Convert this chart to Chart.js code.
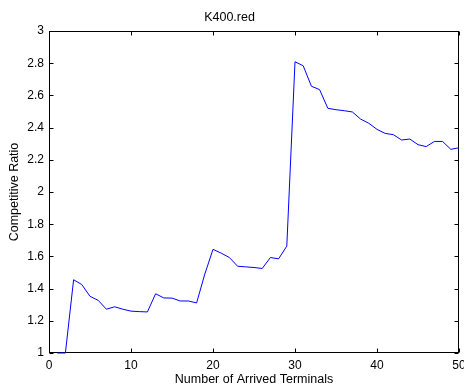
<!DOCTYPE html>
<html>
<head>
<meta charset="utf-8">
<script src="https://cdn.jsdelivr.net/npm/chart.js@4.4.1/dist/chart.umd.min.js"></script>
<style>
html,body{margin:0;padding:0;background:#fff;}
#wrap{width:464px;height:391px;position:relative;}
</style>
</head>
<body>
<div id="wrap"><canvas id="c" width="464" height="391"></canvas></div>
<script>
const chartTitle = 'K400.red';
const xAxisTitle = 'Number of Arrived Terminals';
const yAxisTitle = 'Competitive Ratio';
const terminals = [1,2,3,4,5,6,7,8,9,10,11,12,13,14,15,16,17,18,19,20,21,22,23,24,25,26,27,28,29,30,31,32,33,34,35,36,37,38,39,40,41,42,43,44,45,46,47,48,49,50];
const ratio = [1.0,1.0,1.455,1.425,1.352,1.327,1.272,1.287,1.272,1.260,1.257,1.255,1.368,1.342,1.341,1.323,1.323,1.311,1.490,1.644,1.620,1.593,1.539,1.535,1.531,1.525,1.593,1.585,1.664,2.809,2.784,2.657,2.636,2.520,2.511,2.505,2.497,2.453,2.427,2.389,2.364,2.356,2.323,2.329,2.294,2.282,2.314,2.314,2.265,2.275];
const xTicks = [0,10,20,30,40,50];
const yTicks = [1,1.2,1.4,1.6,1.8,2,2.2,2.4,2.6,2.8,3];

const FONT = 'Liberation Sans, Arial, Helvetica, sans-serif';

const boxPlugin = {
  id: 'matlabBox',
  beforeDatasetsDraw(chart) {
    const {ctx, chartArea: a, scales: {x, y}} = chart;
    ctx.save();
    ctx.strokeStyle = '#000';
    ctx.lineWidth = 1;
    const L = Math.round(a.left) + 0.5, R = Math.round(a.right) - 0.5;
    const T = Math.round(a.top) + 0.5, B = Math.round(a.bottom) - 0.5;
    ctx.strokeRect(L, T, R - L, B - T);
    const tl = 4;
    ctx.beginPath();
    xTicks.forEach(v => {
      const px = Math.round(x.getPixelForValue(v)) + 0.5;
      ctx.moveTo(px, B); ctx.lineTo(px, B - tl);
      ctx.moveTo(px, T); ctx.lineTo(px, T + tl);
    });
    yTicks.forEach(v => {
      const py = Math.round(y.getPixelForValue(v)) + 0.5;
      ctx.moveTo(L, py); ctx.lineTo(L + tl, py);
      ctx.moveTo(R, py); ctx.lineTo(R - tl, py);
    });
    ctx.stroke();
    ctx.restore();
  }
};

new Chart(document.getElementById('c'), {
  type: 'line',
  data: {
    datasets: [{
      data: terminals.map((t, i) => ({x: t, y: ratio[i]})),
      borderColor: '#0000ff',
      borderWidth: 1,
      pointRadius: 0,
      tension: 0,
      fill: false,
      clip: false
    }]
  },
  options: {
    responsive: false,
    animation: false,
    devicePixelRatio: 1,
    layout: {padding: {left: 0, right: 5, top: 0, bottom: 0}},
    plugins: {
      legend: {display: false},
      tooltip: {enabled: false},
      title: {
        display: true,
        text: chartTitle,
        color: '#000',
        font: {family: FONT, size: 12.5, weight: 'normal', lineHeight: 1.2},
        padding: {top: 10, bottom: 6}
      }
    },
    scales: {
      x: {
        type: 'linear',
        min: 0, max: 50,
        afterBuildTicks: s => { s.ticks = xTicks.map(v => ({value: v})); },
        afterFit: s => { s.height = 38; s.paddingLeft = 0; s.paddingRight = 0; },
        grid: {display: false, drawTicks: false},
        border: {display: false},
        ticks: {color: '#000', font: {family: FONT, size: 12}, padding: 5, maxRotation: 0, autoSkip: false},
        title: {display: true, text: xAxisTitle, color: '#000', font: {family: FONT, size: 12.5}, padding: {top: 0, bottom: 4}}
      },
      y: {
        type: 'linear',
        min: 1, max: 3,
        afterBuildTicks: s => { s.ticks = yTicks.map(v => ({value: v})); },
        afterFit: s => { s.width = 49; s.paddingTop = 0; s.paddingBottom = 0; },
        grid: {display: false, drawTicks: false},
        border: {display: false},
        ticks: {color: '#000', font: {family: FONT, size: 12}, padding: 5, autoSkip: false,
          callback: v => String(Number(v.toFixed(1)))},
        title: {display: true, text: yAxisTitle, color: '#000', font: {family: FONT, size: 12.5}, padding: {top: 7, bottom: 0}}
      }
    }
  },
  plugins: [boxPlugin]
});
</script>
</body>
</html>
